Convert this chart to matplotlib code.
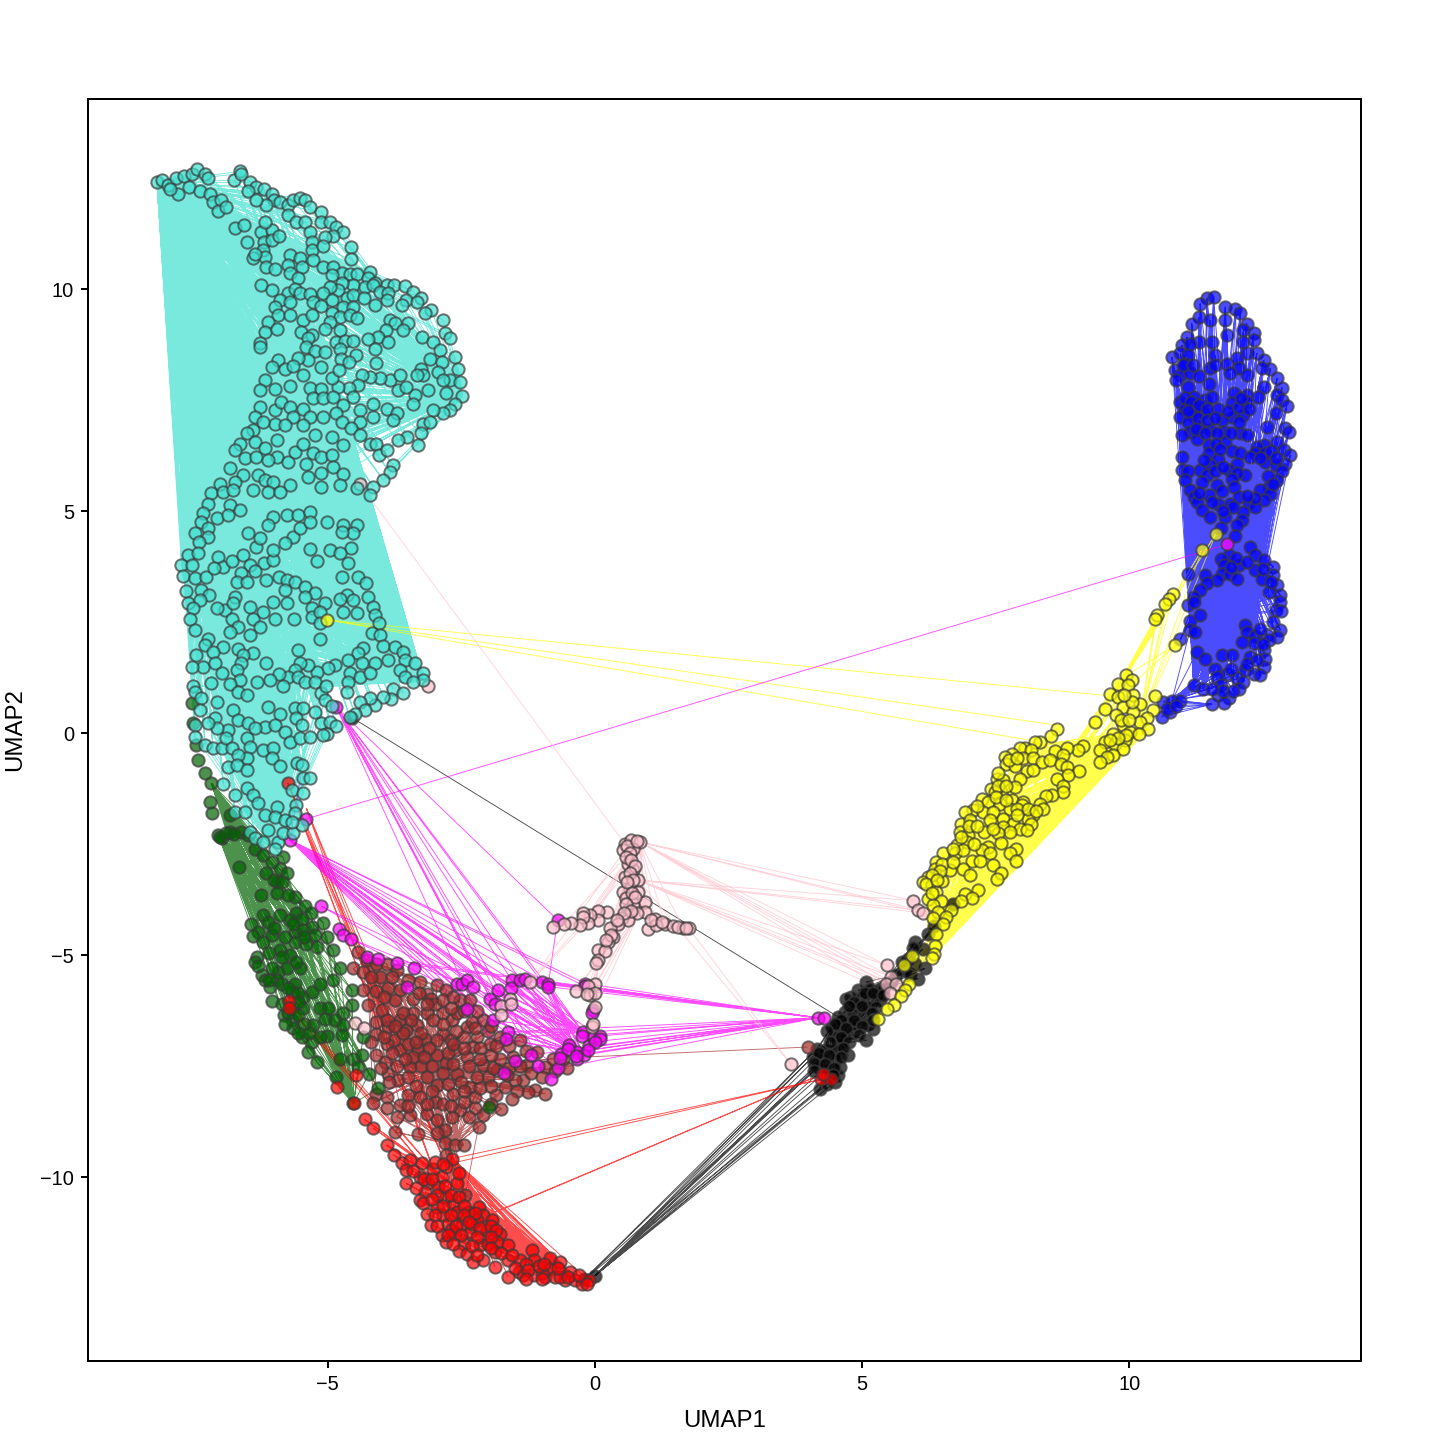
import matplotlib
matplotlib.use("Agg")
import matplotlib.pyplot as plt
import numpy as np

plt.rcParams['font.family'] = ['Liberation Sans', 'DejaVu Sans']

turquoise_pts = [(-8.2,12.4),(-8.1,12.45),(-8.0,12.35),(-7.85,12.5),(-7.7,12.55),(-7.55,12.6),(-7.45,12.7),(-7.3,12.6),(-7.25,12.5),(-7.6,12.3),(-7.4,12.2),(-7.8,12.15),(-7.95,12.25),(-7.2,12.15),(-7.15,11.95),(-7.0,12.0),(-7.05,11.75),(-6.9,11.85),(-6.75,12.45),(-6.65,12.65),(-6.62,12.6),(-6.45,12.4),(-6.35,12.3),(-6.5,12.2),(-6.2,12.25),(-6.05,12.15),(-6.0,12.0),(-6.15,11.9),(-6.35,12.0),(-5.9,11.95),(-5.75,11.9),
(-5.65,12.0),(-5.52,12.05),(-5.43,12.0),(-5.34,11.85),(-5.74,11.67),(-5.59,11.52),(-5.43,11.52),(-5.12,11.74),(-5.12,11.52),(-4.96,11.52),(-4.84,11.4),(-4.71,11.29),(-4.9,11.2),(-5.06,11.18),(-5.34,11.29),
(-6.73,11.37),(-6.57,11.44),(-6.51,11.07),(-6.26,11.29),(-6.04,11.33),(-6.18,11.52),(-6.2,11.07),(-6.05,11.1),(-5.91,11.19),(-6.21,10.88),(-6.41,10.69),(-6.18,10.73),(-6.37,10.8),(-6.15,10.5),(-5.99,10.46),(-5.71,10.76),(-5.52,10.71),(-5.74,10.54),(-5.49,10.5),(-5.71,10.37),(-5.55,10.24),(-6.26,10.1),(-6.05,9.98),(-5.74,9.9),(-5.62,10.01),(-5.9,9.75),(-5.99,9.6),(-5.71,9.71),(-5.52,9.9),(-5.34,9.89),(-5.93,9.41),(-5.71,9.41),(-6.12,9.26),(-6.18,9.04),(-5.96,9.11),(-6.27,8.78),(-6.27,8.7),
(-5.3,11.07),(-5.29,10.89),(-5.27,10.65),(-5.1,10.97),(-4.57,10.94),(-4.57,10.67),(-5.09,10.49),(-4.9,10.5),(-4.74,10.37),(-4.59,10.35),(-4.45,10.35),(-4.93,10.31),(-4.21,10.39),(-4.24,10.24),(-4.11,10.13),(-4.53,10.1),(-4.74,10.13),(-4.81,9.98),(-4.96,10.04),(-5.09,9.9),(-5.27,9.71),(-5.12,9.62),(-4.93,9.75),(-4.64,9.79),(-4.53,9.86),(-4.72,9.6),(-4.52,9.6),(-4.93,9.45),(-4.77,9.38),(-4.59,9.41),(-4.46,9.34),(-5.46,9.3),(-5.3,9.41),(-4.96,9.26),(-4.77,9.08),(-5.05,9.09),(-5.5,9.04),(-5.3,8.96),(-5.37,8.89),(-4.84,8.81),(-4.68,8.83),(-4.52,8.84),(-5.4,8.7),(-5.24,8.6),(-5.05,8.59),(-4.77,8.65),(-4.48,8.51),(-4.76,8.42),(-4.61,8.35),
(-4.31,10.05),(-4.32,9.79),(-4.15,10.1),(-3.9,10.09),(-3.76,10.09),(-3.56,10.07),(-3.4,9.94),(-3.25,9.79),(-3.53,9.75),(-3.34,9.71),(-4.03,9.94),(-3.87,9.9),(-3.9,9.75),(-3.62,9.64),(-4.12,9.64),(-3.06,9.53),(-3.18,9.45),(-2.84,9.3),(-3.84,9.3),(-3.5,9.23),(-3.74,9.23),(-3.91,9.08),(-3.59,9.08),(-4.06,8.93),(-4.24,8.87),(-3.87,8.8),(-4.12,8.66),(-3.23,8.93),(-3.03,8.81),(-2.81,9.0),(-2.71,8.89),(-2.9,8.63),(-2.62,8.48),(-3.09,8.42),(-2.87,8.36),(-2.56,8.21),(-3.25,8.21),(-3.21,8.06),(-3.34,8.06),(-2.93,8.14),(-2.72,7.95),(-2.84,7.95),(-2.53,7.91),(-2.48,7.59),(-2.62,7.42),(-2.72,7.27),(-2.84,7.2),(-3.03,7.27),(-2.78,7.65),(-3.12,7.72),(-3.37,7.61),(-3.68,7.72),(-3.53,7.8),(-3.84,7.95),(-3.65,8.06),(-4.09,8.33),(-4.03,7.99),(-4.21,8.02),(-4.37,8.06),(-4.43,7.84),(-4.6,7.78),(-4.81,7.8),(-4.93,7.99),(-4.79,8.17),(-5.12,8.25),(-5.37,8.4),(-5.55,8.44),(-5.93,8.4),(-6.05,8.24),(-5.8,8.19),(-5.66,8.27),(-5.46,8.06),(-6.18,7.95),(-6.27,7.72),(-5.99,7.76),(-5.71,7.81),(-5.34,7.78),(-5.12,7.76),(-6.27,7.35),(-6.37,7.12),(-5.99,7.27),(-5.87,7.46),(-5.71,7.35),(-5.46,7.31),(-5.27,7.54),(-5.09,7.54),(-4.9,7.57),(-4.71,7.39),(-4.52,7.57),(-4.4,7.27),(-4.15,7.42),(-3.9,7.31),(-3.71,7.2),(-3.4,7.42),(-5.34,7.12),(-5.65,7.12),(-5.99,6.97),(-5.8,6.94),(-5.46,6.94),(-5.09,7.12),(-4.84,7.2),(-4.74,7.01),(-4.4,7.01),(-4.15,7.12),(-3.78,7.05),(-3.21,6.97),(-3.09,7.01),(-3.25,6.75),(-3.51,6.67),(-3.68,6.6),(-3.31,6.49),(-5.24,6.71),(-4.93,6.67),(-4.56,6.86),(-4.4,6.71),(-4.21,6.52),(-4.09,6.52),(-4.05,6.26),(-3.9,6.37),(-3.78,6.04),(-3.84,5.89),(-3.96,5.7),(-4.15,5.55),(-4.21,5.36),(-6.4,6.82),(-6.21,7.01),(-6.52,6.75),(-6.65,6.52),(-6.74,6.37),(-6.37,6.56),(-6.18,6.41),(-5.96,6.6),(-6.55,6.19),(-6.34,6.22),(-5.96,6.22),(-5.74,6.11),(-6.12,6.15),(-5.62,6.33),(-5.46,6.52),(-5.27,6.3),(-5.4,6.07),(-5.12,6.22),(-4.93,6.26),(-4.71,6.49),(-4.9,6.0),(-5.12,5.85),(-4.72,5.83),(-5.37,5.77),(-6.83,5.96),(-6.58,5.81),(-6.3,5.81),(-6.74,5.66),(-7.02,5.62),(-6.18,5.7),(-6.02,5.65),(-5.71,5.58),(-5.12,5.55),(-4.77,5.58),(-4.46,5.51),(-7.18,5.4),(-6.96,5.44),(-6.77,5.47),(-6.4,5.47),(-6.12,5.44),(-5.9,5.44),
(-7.24,5.17),(-6.83,5.14),(-6.65,5.02),(-7.33,4.95),(-7.08,4.84),(-6.87,4.91),(-7.37,4.76),(-7.24,4.61),(-7.49,4.5),(-7.24,4.42),(-7.41,4.31),(-7.61,4.01),(-7.43,4.05),(-7.74,3.79),(-7.55,3.79),(-7.71,3.54),(-7.49,3.49),(-7.29,3.52),(-7.65,3.19),(-7.37,3.22),(-7.23,3.11),(-7.61,2.92),(-7.4,3.0),(-7.52,2.81),(-7.58,2.56),(-7.49,2.32),(-7.05,3.97),(-6.96,3.75),(-7.13,3.71),(-6.8,3.88),(-6.58,4.01),(-6.34,4.2),(-6.46,3.79),(-6.2,3.82),(-6.02,3.9),(-6.02,4.12),(-6.62,3.6),(-6.37,3.64),(-6.16,3.45),(-5.91,3.52),(-5.77,3.45),(-5.62,3.41),(-6.71,3.41),(-6.52,3.41),(-5.8,3.22),(-5.43,3.3),(-5.24,3.15),(-5.43,3.07),(-5.05,2.92),(-5.77,2.92),(-6.03,2.96),(-6.74,3.07),(-6.93,2.77),(-7.08,2.81),(-6.77,2.92),(-6.46,2.85),(-6.21,2.73),(-6.4,2.58),(-5.99,2.56),(-5.63,2.56),(-6.8,2.58),(-5.3,2.81),(-5.3,2.61),(-5.15,2.73),(-5.15,2.49),(-5.15,2.13),(-6.68,2.4),(-6.27,2.4),(-6.46,2.22),(-6.83,2.28),
(-5.34,4.14),(-4.96,4.12),(-5.2,3.88),(-5.65,4.42),(-5.8,4.27),(-5.52,4.61),(-5.77,4.91),(-5.55,4.91),(-5.34,4.99),(-5.34,4.76),(-6.02,4.87),(-6.12,4.69),(-6.27,4.39),(-6.49,4.5),(-5.02,4.76),(-4.71,4.69),(-4.46,4.69),(-4.53,4.5),(-4.74,4.54),(-4.56,4.16),(-4.77,4.05),(-4.62,3.82),(-4.74,3.52),(-4.43,3.52),(-4.28,3.37),(-4.65,3.11),(-4.77,3.02),(-4.52,3.0),(-4.24,3.07),(-4.71,2.73),(-4.46,2.71),(-4.15,2.85),(-4.12,2.66),(-4.05,2.49),(-4.18,2.25),(-4.03,2.21),(-3.96,1.97),(-4.34,1.91),(-4.43,1.8),(-4.62,1.65),(-4.37,1.57),(-4.12,1.57),(-3.74,1.95),(-3.59,1.83),(-3.87,1.65),(-3.56,1.65),(-3.37,1.57),(-3.65,1.42),(-3.56,1.27),(-3.21,1.35),(-3.21,1.2),(-3.4,1.16),(-3.78,0.99),(-3.59,0.91),(-3.81,0.76),(-3.96,0.82),(-4.12,0.63),(-4.21,0.78),(-4.4,0.71),(-4.31,0.52),(-4.49,0.42),(-4.59,0.37),
(-4.59,1.35),(-4.4,1.27),(-4.62,1.14),(-4.21,1.35),(-4.65,0.93),(-4.87,1.53),(-4.99,1.46),(-5.21,1.38),(-5.37,1.53),(-5.52,1.59),(-5.62,1.42),(-5.74,1.27),(-5.55,1.27),(-5.43,1.16),(-5.24,1.16),(-5.84,1.06),(-5.55,1.87),(-6.15,1.57),(-5.91,1.33),(-6.08,1.2),(-6.32,1.14),(-6.41,1.8),(-6.69,1.89),(-6.58,1.76),(-6.62,1.57),(-6.71,1.42),(-6.65,1.2),(-6.83,1.1),(-6.68,0.93),(-6.52,0.86),(-6.96,1.95),(-7.24,2.13),(-7.46,1.76),(-7.3,1.98),(-7.15,1.83),(-7.33,1.5),(-7.55,1.48),(-7.12,1.57),(-6.99,1.35),(-7.18,1.12),(-7.52,1.05),(-7.49,0.93),(-7.37,0.78),(-7.08,0.71),(-7.4,0.52),(-7.12,0.33),(-6.77,0.52),(-6.68,0.3),(-6.87,0.07),(-7.08,0.11),(-7.24,0.22),(-7.49,0.18),(-7.49,-0.08),(-7.3,-0.27),(-7.15,-0.34),(-6.99,-0.34),(-6.9,-0.1),(-6.49,0.22),(-6.18,0.14),(-6.52,-0.12),(-6.37,0.11),(-6.46,-0.31),(-6.8,-0.34),(-6.12,0.58),(-5.9,0.43),(-5.99,0.18),(-5.8,0.03),(-5.62,0.56),(-5.46,0.56),(-5.59,0.33),(-5.49,0.18),(-5.71,-0.19),(-5.52,-0.12),(-5.34,-0.08),(-6.21,-0.38),(-6.02,-0.34),(-6.05,-0.57),(-6.52,-0.57),(-6.68,-0.49),(-6.87,-0.76),(-6.71,-0.72),(-6.52,-0.83),(-5.9,-0.74),(-5.57,-0.68),(-5.48,-0.72),(-6.96,-1.15),(-6.52,-1.24),(-6.74,-1.39),(-6.4,-1.39),(-6.3,-1.57),(-6.74,-1.77),(-6.55,-1.77),(-6.46,-2.22),(-6.37,-2.37),(-6.21,-2.45),(-6.12,-2.18),(-6.18,-1.84),(-5.96,-1.66),(-5.99,-1.88),(-5.8,-1.96),(-5.59,-1.62),(-5.68,-1.27),(-5.46,-1.02),(-5.34,-1.02),(-5.46,-1.36),(-5.62,-1.81),(-5.93,-2.45),(-5.99,-2.6),(-5.84,-2.26),(-5.65,-2.24),(-5.48,-2.07),(-5.68,-2.0),(-5.12,0.22),(-4.96,0.26),(-4.84,0.16),(-5.02,-0.01),(-5.1,-0.04),(-5.24,0.48),(-5.12,0.9),(-5.05,0.75),(-4.93,0.6),(-5.03,1.05)]

blue_pts = [(11.46,9.79),(11.58,9.82),(11.33,9.67),(11.8,9.6),(11.99,9.56),(12.08,9.45),(11.3,9.37),(11.52,9.3),(11.8,9.3),(11.17,9.22),(12.2,9.22),(11.83,8.96),(12.14,9.07),(12.33,9.0),(12.33,8.85),(11.08,8.92),(11.3,8.81),(11.55,8.81),(10.99,8.74),(11.14,8.77),(12.14,8.81),
(10.8,8.47),(10.96,8.55),(11.11,8.51),(11.61,8.51),(11.83,8.32),(12.02,8.44),(12.2,8.55),(12.39,8.56),(12.52,8.4),(12.64,8.21),(12.49,8.23),(10.86,8.17),(11.05,8.32),(10.96,8.06),(11.14,8.1),(11.52,8.23),(11.61,8.29),(12.05,8.23),(12.2,8.06),(11.89,8.1),(12.77,7.99),(12.52,7.8),(11.49,7.86),(11.11,7.8),(12.86,7.78),(12.77,7.61),(11.96,7.65),(12.2,7.61),(12.42,7.57),(11.21,7.57),(11.42,7.5),(11.55,7.57),(12.86,7.5),(10.96,7.46),(11.05,7.31),(11.24,7.35),(11.67,7.31),(11.92,7.44),(12.2,7.46),(12.95,7.36),(12.74,7.2),(10.96,7.12),(11.17,7.16),(11.39,7.23),(11.92,7.12),(12.14,7.16),(11.74,7.05),(12.58,6.9),(11.11,7.01),(11.33,6.9),(11.52,6.82),(11.14,6.78),(11.77,6.78),(12.08,6.75),(12.2,6.71),(12.92,6.86),(12.99,6.78),(10.99,6.71),(11.27,6.63),(12.77,6.56),(11.8,6.56),(11.49,6.48),(12.52,6.48),(12.39,6.45),(12.89,6.37),(13.02,6.26),(10.99,6.22),(11.49,6.3),(11.92,6.36),(12.08,6.3),(12.36,6.3),(12.27,6.22),(11.67,6.18),(12.55,6.11),(12.92,6.07),(12.74,6.03),(12.02,6.07),(11.52,6.03),(10.99,5.92),(11.33,5.92),(11.86,5.92),(12.17,5.81),(12.02,5.85),(11.11,5.91),(11.46,5.81),(12.86,5.91),(11.05,5.7),(11.36,5.66),(11.92,5.73),(12.77,5.7),(11.96,5.55),(11.64,5.58),(12.61,5.55),(11.14,5.47),(11.74,5.46),(12.45,5.47),(12.64,5.39),(11.21,5.32),(11.49,5.36),(12.05,5.32),(12.52,5.24),(11.27,5.21),(11.67,5.17),(11.89,5.15),(12.24,5.18),(11.36,5.02),(12.14,4.98),(12.36,5.09),(11.52,4.87),(11.8,4.87),(12.11,4.79),(12.02,4.68),(11.71,4.63),(11.99,4.43),
(12.27,4.19),(12.36,4.0),(11.86,4.0),(11.71,3.91),(12.52,3.89),(11.77,3.78),(12.05,3.78),(12.7,3.74),(12.36,3.67),(11.11,3.58),(11.42,3.56),(11.74,3.59),(11.89,3.59),(12.7,3.56),(12.02,3.48),(12.49,3.48),(11.64,3.44),(12.77,3.33),(11.46,3.37),(11.33,3.22),(12.61,3.18),(12.83,3.1),(12.83,2.95),(11.21,3.07),(11.11,2.88),(12.74,2.77),(12.7,2.5),(11.14,2.53),(12.17,2.43),(12.2,2.28),(12.83,2.32),(11.14,2.32),(11.24,2.28),(12.36,2.18),(12.58,2.2),(12.77,2.17),(10.96,2.11),(12.11,2.05),(12.33,2.02),(12.61,2.09),(12.52,1.87),(12.27,1.72),(12.55,1.68),(11.27,1.83),(11.42,1.68),(11.74,1.75),(11.92,1.75),(11.61,1.45),(12.52,1.49),(12.17,1.42),(11.83,1.34),(12.33,1.34),(11.64,1.27),(12.02,1.23),(12.14,1.15),(11.21,1.08),(11.39,1.0),(11.71,1.08),(12.05,1.0),(11.67,0.85),(11.86,0.78),(11.55,0.65),(11.77,0.67),
(10.64,0.7),(10.8,0.73),(10.96,0.73),(10.77,0.48),(10.61,0.37)]
blue_extra = [(11.0,8.3),(11.2,8.3),(11.3,8.05),(10.88,7.95),(11.05,7.55),(11.15,7.45),(11.3,7.4),(11.45,7.3),(11.1,7.25),(11.28,7.1),(11.45,7.05),(11.6,7.1),(11.85,7.25),(12.05,7.35),(12.25,7.3),(12.05,7.0),(12.1,7.55),(11.25,6.85),(11.42,6.75),(11.65,6.75),(11.9,6.75),(11.62,6.5),(11.7,6.4),(12.55,6.3),(12.65,6.35),(12.75,6.2),(12.45,6.2),(11.4,6.15),(11.6,5.9),(11.75,6.0),(12.6,5.8),(12.7,5.6),(11.3,5.4),(11.55,5.2),(12.35,5.3),(12.2,5.35),(11.95,5.1),(11.75,5.0),(12.0,3.95),(11.9,3.75),(12.2,3.85),(12.5,3.7),(12.65,3.4),(12.85,2.75),(12.45,2.35),(12.5,2.0),(12.4,1.65),(12.2,1.55),(11.9,1.45),(12.45,1.3),(11.75,0.95),(11.55,1.0),(11.95,0.95),(10.7,0.55),(10.88,0.62),(11.22,2.95),(11.32,2.65)]

yellow_pts = [(9.95,1.3),(10.05,1.19),(9.8,1.11),(9.98,1.08),(9.64,0.89),(10.08,0.85),(9.8,0.81),(10.48,0.83),(9.55,0.55),(9.89,0.59),(10.2,0.65),(10.45,0.53),(10.08,0.48),(9.76,0.4),(10.33,0.33),(9.36,0.25),(9.89,0.18),(10.2,0.25),(10.36,0.1),(10.02,0.03),(9.7,-0.01),(10.19,-0.03),(9.92,-0.16),(9.55,-0.2),(9.73,-0.25),(9.45,-0.37),(9.88,-0.35),(9.7,-0.5),(9.58,-0.54),(9.45,-0.65),
(8.64,0.09),(8.53,-0.07),(9.13,-0.3),(9.05,-0.39),(8.33,-0.2),(8.24,-0.2),(8.05,-0.33),(7.95,-0.33),(8.17,-0.39),(7.8,-0.46),(7.67,-0.54),(8.02,-0.55),(8.2,-0.57),(8.61,-0.4),(8.83,-0.33),(8.77,-0.5),(8.36,-0.65),(8.52,-0.61),(8.73,-0.69),(7.7,-0.7),(7.86,-0.73),(8.83,-0.76),(8.08,-0.85),(8.2,-0.84),(9.07,-0.85),(8.86,-0.95),(8.64,-1.03),(7.52,-1.03),(7.64,-1.05),(7.95,-1.03),(8.77,-1.18),(7.86,-1.21),(7.42,-1.25),(7.61,-1.33),(7.49,-1.33),(8.77,-1.33),(8.55,-1.4),(8.45,-1.42),(7.24,-1.48),(7.36,-1.55),(7.58,-1.59),(7.8,-1.51),(8.02,-1.55),(8.33,-1.59),(7.77,-1.7),(7.99,-1.63),(8.39,-1.72),(7.08,-1.74),(7.27,-1.78),(7.46,-1.78),(6.92,-1.78),(8.2,-1.85),(7.64,-1.93),(8.11,-1.93),(6.86,-2.04),(7.02,-1.96),(7.39,-1.96),(7.83,-2.04),(8.17,-2.04),(7.64,-2.11),(7.95,-2.15),(6.83,-2.23),(7.28,-2.23),(7.77,-2.23),(8.08,-2.19),(6.99,-2.3),(7.55,-2.26),(6.77,-2.53),(6.96,-2.45),(7.61,-2.47),(7.36,-2.56),(7.24,-2.64),(7.89,-2.62),(6.52,-2.71),(6.74,-2.71),(6.89,-2.64),(7.39,-2.71),(7.77,-2.71),(6.39,-2.9),(7.05,-2.87),(7.21,-2.87),(7.89,-2.87),(7.46,-2.98),(6.64,-3.09),(6.89,-3.05),(6.36,-3.05),(7.61,-3.16),(7.02,-3.2),(6.24,-3.24),(7.52,-3.28),(6.49,-3.32),(6.14,-3.35),(6.3,-3.43),(7.17,-3.54),(6.39,-3.58),(6.92,-3.62),(7.05,-3.71),(6.24,-3.73),(6.47,-3.78),(6.86,-3.77),(6.33,-3.88),(6.67,-3.99),(6.43,-4.03),(6.33,-4.16),(6.58,-4.14),(6.51,-4.29),(6.39,-4.53),(6.36,-4.8),(6.34,-4.97),(6.3,-5.06),(5.94,-5.03),(5.79,-5.23),(5.88,-5.64),(5.8,-5.79),(5.73,-5.92),(5.59,-6.13),(5.46,-6.21),(5.29,-6.43)]
yellow_extra = [(7.55,-0.9),(7.75,-0.6),(7.9,-0.55),(7.55,-1.2),(7.7,-1.2),(7.5,-1.45),(7.7,-1.5),(7.9,-1.7),(8.1,-1.7),(8.25,-1.75),(7.15,-1.65),(7.0,-2.1),(7.15,-2.1),(7.45,-2.15),(7.9,-1.85),(6.7,-2.6),(6.85,-2.35),(7.1,-2.5),(6.5,-2.95),(6.7,-2.9),(6.45,-3.1),(6.3,-3.2),(6.2,-3.4),(6.4,-3.3),(6.3,-3.6),(9.85,0.3),(10.0,0.3),(9.95,-0.05),(9.8,-0.1),(10.05,0.7),(9.9,0.85),(9.65,-0.15)]
yellow_up = [(11.36,4.12),(11.62,4.48),(10.86,1.98),(10.83,3.14),(10.74,3.03),(10.68,2.9),(10.52,2.65),(10.49,2.56)]
yellow_far = [(-5.02,2.55)]
yellow_far_ends = [(9.55,0.85),(8.64,0.18),(8.14,-0.16)]

black_pts = [(5.08,-5.6),(4.93,-5.79),(5.15,-5.76),(5.33,-5.76),(4.8,-5.94),(4.99,-5.94),(5.21,-5.98),(5.33,-6.02),(4.93,-6.13),(5.11,-6.17),(5.27,-6.17),(4.68,-6.28),(4.83,-6.32),(5.02,-6.36),(4.55,-6.39),(4.74,-6.51),(4.9,-6.54),(5.11,-6.54),(4.43,-6.62),(4.61,-6.69),(4.83,-6.73),(5.21,-6.66),(5.08,-6.92),(4.49,-6.84),(4.68,-6.84),(4.58,-6.99),(4.15,-7.11),(4.3,-7.14),(4.49,-7.14),(4.08,-7.29),(4.27,-7.33),(4.49,-7.33),(4.74,-7.26),(4.18,-7.52),(4.37,-7.56),(4.58,-7.52),(4.55,-7.71),(4.21,-8.01),(4.49,-7.86),
(5.99,-4.7),(6.24,-4.52),(6.14,-4.86),(5.86,-5.08),(6.18,-5.3),(5.8,-5.34),(5.64,-5.45),(5.89,-5.42),(6.05,-5.53),(6.71,-3.84),(5.4,-5.76)]
black_extra = [(4.7,-5.98),(4.85,-6.05),(5.05,-5.85),(5.2,-5.85),(5.4,-5.9),(4.75,-6.15),(5.0,-6.15),(5.18,-6.3),(4.6,-6.45),(4.85,-6.45),(5.0,-6.6),(5.2,-6.45),(4.5,-6.55),(4.7,-6.65),(4.95,-6.8),(4.35,-6.7),(4.6,-6.85),(4.75,-6.95),(4.4,-6.95),(4.65,-7.1),(4.2,-7.2),(4.38,-7.25),(4.6,-7.3),(4.1,-7.42),(4.3,-7.45),(4.48,-7.55),(4.28,-7.7),(4.45,-7.7),(4.1,-7.6),(4.35,-7.9),(5.75,-5.15),(5.95,-4.85),(5.55,-5.6),(6.35,-4.35),(6.0,-5.2)]
black_hubs = [(0.0,-12.22),(-0.2,-12.3),(-4.55,0.35)]

green_pts = [(-7.18,-1.13),(-7.2,-1.55),(-7.16,-1.81),(-6.83,-1.85),(-7.05,-2.3),(-6.99,-2.37),(-6.83,-2.22),(-6.62,-2.22),(-6.37,-2.6),(-6.21,-2.75),(-5.84,-2.79),(-6.05,-2.9),(-6.66,-3.01),(-5.9,-3.05),(-6.16,-3.15),(-5.77,-3.16),(-5.96,-3.35),(-6.25,-3.65),(-5.95,-3.61),(-5.62,-3.69),(-5.74,-3.65),(-5.43,-3.9),(-5.59,-4.06),(-5.9,-4.1),(-6.21,-4.1),(-5.32,-4.06),(-5.49,-4.18),(-6.43,-4.29),(-6.12,-4.25),(-5.71,-4.21),(-5.09,-4.27),(-5.3,-4.36),(-6.3,-4.48),(-6.05,-4.55),(-5.62,-4.48),(-5.46,-4.44),(-6.4,-4.57),(-5.24,-4.55),(-5.02,-4.59),(-6.21,-4.7),(-5.62,-4.7),(-5.4,-4.74),(-5.9,-4.89),(-4.9,-4.89),(-5.21,-4.81),(-5.71,-5.0),(-6.33,-5.04),(-6.37,-5.15),(-5.52,-5.3),(-5.77,-5.3),(-6.24,-5.45),(-5.93,-5.38),(-4.77,-5.3),(-4.9,-5.56),(-6.18,-5.56),(-5.96,-5.56),(-5.62,-5.64),(-5.15,-5.64),(-6.08,-5.71),(-5.68,-5.83),(-5.3,-5.83),(-4.55,-5.79),(-6.05,-6.03),(-5.46,-5.94),(-5.65,-6.17),(-4.55,-6.13),(-5.46,-6.2),(-5.15,-6.2),(-4.99,-6.2),(-4.71,-6.31),(-5.83,-6.35),(-5.68,-6.47),(-5.05,-6.43),(-4.87,-6.47),(-5.65,-6.65),(-5.27,-6.58),(-4.71,-6.58),(-5.49,-6.84),(-5.02,-6.82),(-4.74,-6.8),(-5.3,-6.95),(-5.37,-7.18),(-5.21,-7.4),(-4.77,-7.33),(-4.52,-7.33),(-4.37,-7.25),(-4.43,-7.52),(-4.84,-7.74),(-4.23,-7.67),(-4.06,-8.0),(-4.52,-8.34),(-1.98,-8.42),(-4.34,-6.84)]
green_extra = [(-7.55,0.67),(-7.52,0.22),(-7.46,-0.27),(-7.43,-0.6),(-7.3,-0.9),(-7.02,-2.33),(-6.9,-2.25),(-6.75,-2.28),(-6.5,-2.3),(-6.0,-3.3),(-5.85,-3.35),(-5.65,-4.3),(-6.0,-4.4),(-5.8,-4.6),(-5.45,-4.6),(-6.1,-4.95),(-6.3,-5.25),(-6.05,-5.3),(-5.85,-5.05),(-5.6,-5.15),(-6.1,-5.55),(-5.85,-5.65),(-5.75,-5.75),(-5.55,-5.85),(-5.85,-6.1),(-5.55,-6.05),(-5.75,-6.3),(-5.55,-6.35),(-5.8,-6.55),(-5.45,-6.55),(-5.55,-6.75),(-5.35,-6.75),(-5.15,-6.85)]

brown_pts = [(-4.27,-5.11),(-4.09,-5.19),(-4.52,-5.3),(-4.34,-5.38),(-3.9,-5.19),(-3.71,-5.34),(-4.03,-5.49),(-4.43,-4.93),(-4.34,-5.79),(-3.87,-5.75),(-3.65,-5.79),(-3.28,-5.6),(-2.96,-5.68),(-2.78,-5.79),(-3.15,-5.87),(-4.24,-6.13),(-3.99,-6.24),(-3.74,-6.02),(-3.4,-5.98),(-3.06,-5.98),(-2.84,-6.31),(-2.53,-6.02),(-2.34,-6.02),(-3.87,-6.62),(-3.65,-6.47),(-3.15,-6.31),(-3.34,-6.58),(-3.03,-6.47),(-2.68,-6.47),(-2.4,-6.62),(-2.09,-6.47),(-4.09,-6.77),(-3.53,-6.69),(-3.18,-6.88),(-2.84,-6.77),(-2.46,-6.84),(-2.21,-6.84),(-1.96,-6.99),(-1.78,-6.84),(-1.4,-6.92),(-3.93,-7.4),(-3.65,-7.14),(-3.31,-7.14),(-2.96,-7.25),(-2.62,-7.14),(-2.28,-7.07),(-4.09,-7.25),(-3.46,-7.52),(-2.59,-7.67),(-2.4,-7.29),(-2.09,-7.48),(-1.78,-7.33),(-1.53,-7.29),(-1.09,-7.18),(-0.78,-7.33),(-0.53,-7.55),(-0.93,-7.52),(-1.28,-7.48),(-3.87,-7.67),(-3.15,-7.74),(-2.96,-7.93),(-2.65,-8.12),(-2.34,-7.97),(-2.0,-7.74),(-1.68,-7.97),(-1.34,-7.82),(-1.12,-8.04),(-0.93,-8.12),(-1.25,-8.08),(-4.09,-8.12),(-3.9,-8.19),(-3.65,-8.38),(-3.28,-8.19),(-2.53,-8.49),(-2.09,-8.6),(-1.75,-8.46),(-4.15,-8.34),(-3.71,-8.64),(-3.46,-8.6),(-3.15,-8.57),(-2.68,-8.64),(-2.18,-8.87),(-3.74,-8.98),(-3.31,-9.02),(-2.96,-8.72),(-2.81,-8.94),(-2.81,-9.24),(-2.62,-9.28),(-2.46,-9.28),(-2.78,-9.5),(-2.43,-10.41),(-3.4,-6.31),(-2.59,-6.31),(-2.3,-6.5),(-3.77,-6.92),(-2.96,-6.92),(-3.4,-7.29),(-2.78,-7.44),(-1.84,-7.59),(-1.5,-7.82),(-3.68,-7.82),(-3.0,-6.1),(-3.6,-6.3),(-2.2,-6.25),(-2.0,-6.7),(-3.5,-7.0),(-3.1,-7.1),(-2.7,-6.9),(-2.35,-7.5),(-2.75,-7.2),(-1.95,-7.25),(-2.2,-7.75),(-2.5,-7.85),(-3.25,-7.5),(-3.0,-8.3),(-2.25,-8.2),(-1.85,-8.15),(-1.6,-7.55),(-1.2,-7.65),(-3.6,-6.75),(-3.9,-7.0),(-3.7,-7.5)]
brown_extra = [(-4.2,-5.5),(-4.1,-5.8),(-3.95,-5.95),(-3.8,-5.5),(-3.5,-5.55),(-3.3,-5.85),(-3.15,-6.1),(-2.85,-6.0),(-2.65,-5.95),(-2.45,-6.25),(-2.7,-6.2),(-3.9,-6.45),(-4.1,-6.5),(-4.2,-6.95),(-3.95,-6.85),(-3.75,-6.6),(-3.45,-6.45),(-3.25,-6.75),(-3.35,-6.95),(-2.85,-6.55),(-2.6,-6.7),(-2.25,-6.65),(-1.95,-6.6),(-2.65,-7.0),(-2.45,-7.1),(-2.15,-7.1),(-1.85,-7.05),(-1.6,-7.05),(-1.3,-7.15),(-3.8,-7.2),(-3.55,-7.35),(-3.2,-7.3),(-3.05,-7.5),(-2.85,-7.65),(-2.65,-7.45),(-2.15,-7.35),(-1.9,-7.55),(-1.65,-7.7),(-1.4,-7.5),(-1.0,-7.75),(-0.75,-7.6),(-0.6,-7.35),(-4.0,-7.55),(-3.85,-7.85),(-3.5,-7.75),(-3.35,-7.95),(-3.05,-8.05),(-2.75,-7.9),(-2.45,-8.05),(-2.15,-8.0),(-1.95,-7.95),(-1.45,-8.05),(-1.55,-8.25),(-3.5,-8.15),(-3.15,-8.35),(-2.85,-8.35),(-2.45,-8.3),(-2.25,-8.45),(-1.95,-8.35),(-2.7,-8.4),(-3.9,-8.45),(-3.5,-8.4),(-2.35,-8.65),(-2.95,-9.0)]
brown_stray = [(3.98,-7.07)]

red_pts = [(-5.73,-6.04),(-5.73,-6.18),(-5.75,-1.12),(-4.47,-7.7),(-4.82,-7.98),(-4.51,-8.32),(-4.31,-8.7),(-4.15,-8.9),(-3.9,-9.28),(-3.77,-9.5),(-3.62,-9.69),(-3.46,-9.62),(-3.24,-9.69),(-2.67,-9.58),(-3.53,-9.84),(-3.28,-9.99),(-3.03,-9.81),(-2.78,-9.77),(-2.87,-9.99),(-3.53,-10.14),(-3.12,-10.14),(-2.59,-10.14),(-2.93,-10.22),(-3.18,-10.33),(-2.78,-10.44),(-2.96,-10.41),(-3.28,-10.52),(-3.21,-10.59),(-2.96,-10.67),(-2.65,-10.63),(-2.18,-10.67),(-3.15,-10.82),(-2.84,-10.86),(-2.59,-10.78),(-2.37,-10.78),(-2.09,-10.86),(-1.93,-10.97),(-3.06,-11.08),(-2.75,-11.05),(-2.49,-11.05),(-2.21,-10.97),(-2.03,-11.2),(-2.34,-11.23),(-2.62,-11.27),(-2.87,-11.31),(-1.78,-11.27),(-2.78,-11.46),(-2.46,-11.5),(-2.15,-11.53),(-1.84,-11.46),(-1.62,-11.53),(-2.54,-11.67),(-2.4,-11.72),(-1.87,-11.68),(-2.28,-11.92),(-2.09,-11.87),(-1.62,-11.87),(-1.18,-11.65),(-1.4,-11.87),(-1.87,-12.02),(-1.15,-11.87),(-0.84,-11.83),(-0.65,-11.91),(-1.43,-12.13),(-1.62,-12.25),(-1.15,-12.21),(-0.84,-12.06),(-0.47,-12.13),(-0.93,-12.25),(-0.75,-12.25),(-0.56,-12.32),(-0.37,-12.32),(-0.25,-12.4),(-0.12,-12.32),(-2.7,-11.2),(-2.3,-11.05),(-2.0,-11.5),(-1.35,-12.2),(-1.0,-12.15),(-0.65,-12.25)]
red_extra = [(-3.35,-10.25),(-3.2,-10.05),(-3.05,-10.05),(-2.8,-10.2),(-2.7,-10.4),(-2.55,-10.45),(-3.05,-10.5),(-2.85,-10.65),(-2.45,-10.65),(-3.0,-10.85),(-2.7,-10.85),(-2.45,-10.85),(-2.25,-10.8),(-2.95,-11.1),(-2.6,-11.1),(-2.35,-11.0),(-2.15,-11.15),(-1.95,-11.1),(-1.85,-11.2),(-2.75,-11.3),(-2.5,-11.3),(-2.2,-11.35),(-1.95,-11.35),(-2.65,-11.5),(-2.3,-11.55),(-1.95,-11.6),(-2.2,-11.75),(-1.75,-11.7),(-1.55,-11.75),(-1.3,-11.95),(-1.25,-12.1),(-1.05,-12.0),(-1.5,-12.05),(-0.95,-11.95),(-0.7,-12.05),(-0.5,-12.25),(-1.0,-12.3),(-1.3,-12.3),(-0.3,-12.2),(-0.15,-12.4),(-3.4,-9.85),(-3.0,-9.65),(-2.85,-9.7),(-2.55,-9.9)]
red_far = [(4.23,-7.8),(4.42,-7.8),(4.27,-7.67)]
red_far_starts = [(-2.67,-9.58),(-2.55,-9.65),(-2.21,-10.97),(-2.1,-10.9)]
red_hidden = [(-5.5,-1.95),(-5.4,-1.7)]

magenta_pts = [(-5.12,-3.9),(-4.8,-4.42),(-4.71,-4.55),(-4.57,-4.63),(-4.26,-5.04),(-4.07,-5.08),(-3.71,-5.17),(-3.39,-5.3),(-3.51,-5.71),(-2.59,-5.65),(-2.48,-5.65),(-2.39,-5.56),(-2.28,-5.71),(-2.39,-6.22),(-1.96,-5.98),(-1.81,-5.79),(-1.87,-6.09),(-1.9,-6.47),(-1.62,-6.73),(-1.67,-6.88),(-1.56,-5.56),(-1.58,-5.73),(-1.4,-5.56),(-1.31,-5.54),(-1.0,-5.6),(-0.87,-5.64),(-0.88,-5.71),(-1.5,-7.39),(-1.7,-7.65),(-1.2,-7.25),(-1.07,-7.5),(-0.7,-7.55),(-0.82,-7.79),(-0.64,-7.23),(-0.49,-7.03),(-0.34,-7.18),(-0.34,-7.33),(-0.2,-7.25),(-0.12,-7.03),(-0.22,-6.74),(-0.03,-6.84),(0.1,-6.82),(-0.03,-6.24),(-0.18,-5.64),(-0.7,-4.21),(-0.19,-5.7),(-0.05,-6.31),(-0.24,-6.82),(0.09,-6.89),(0.0,-6.95),(-0.13,-7.13),(-0.5,-7.12),(-0.36,-7.27),(-0.65,-7.31)]
magenta_hubs = [(-5.71,-2.41),(-4.84,0.58)]
magenta_right = [(4.17,-6.41),(4.28,-6.42)]
magenta_neck = [(11.83,4.25)]
magenta_hidden = [(-5.4,-1.93)]

pink_pts = [(0.56,-2.49),(0.68,-2.41),(0.84,-2.45),(0.53,-2.64),(0.72,-2.6),(0.62,-2.94),(0.72,-3.09),(0.56,-3.24),(0.81,-3.31),(0.65,-3.5),(0.53,-3.57),(0.81,-3.57),(0.59,-3.72),(0.71,-3.84),(0.93,-3.8),(0.62,-3.99),(0.93,-4.02),(0.78,-4.06),(1.12,-4.19),(0.5,-4.17),(0.62,-4.21),(0.43,-4.29),(1.31,-4.29),(1.46,-4.35),(1.65,-4.38),(1.76,-4.4),(1.0,-4.42),(1.15,-4.32),(0.28,-4.4),(0.34,-4.59),(0.25,-4.7),(0.06,-4.89),(0.18,-4.9),(0.06,-5.11),(0.02,-5.17),(0.22,-4.02),(0.06,-4.0),(0.06,-4.21),(-0.1,-4.1),(-0.23,-4.05),(-0.13,-4.27),(-0.22,-4.15),(-0.28,-4.32),(-0.44,-4.27),(-0.58,-4.29),(-0.78,-4.36)]
pink_extra = [(0.6,-2.55),(0.78,-2.42),(0.65,-2.7),(0.58,-2.8),(0.68,-2.85),(0.75,-3.0),(0.65,-3.15),(0.72,-3.3),(0.6,-3.35),(0.7,-3.6),(0.75,-3.7),(0.58,-3.85),(0.68,-4.0),(0.55,-4.05),(0.42,-4.2),(0.3,-4.55),(0.2,-4.65),(1.05,-4.2),(1.25,-4.25),(1.55,-4.37),(1.7,-4.4)]
pink_low = [(0.0,-5.65),(-0.13,-5.69),(-0.36,-5.8),(-0.1,-5.9),(0.0,-5.86),(0.0,-6.16),(-0.05,-6.62),(-0.03,-6.54),(-1.59,-5.98),(-1.76,-6.14),(-1.58,-6.1),(-1.75,-6.34),(-1.21,-5.6),(-0.15,-5.87)]
pink_far = [(5.96,-3.77),(6.05,-3.98),(6.14,-4.05),(5.46,-5.23),(5.55,-5.49),(5.45,-5.64),(5.63,-5.66),(5.53,-5.85),(3.67,-7.46)]
pink_stray = [(-3.12,1.05),(-4.49,-6.52),(-4.32,-6.63),(-4.4,5.6)]
pink_core = [(0.84,-2.45),(0.81,-3.31)]

def fan(sink, hubs, pts):
    for hx, hy in hubs:
        for px, py in pts:
            sink.extend([(hx, hy), (px, py), (np.nan, np.nan)])

t = turquoise_pts
e_turq = []
fan(e_turq, [(-8.2,12.4)], t)
fan(e_turq, [(-8.0,12.35),(-7.8,12.15)], [p for p in t if p[1] < 6.5])
fan(e_turq, [(-2.48,7.59)], [p for p in t if p[1] > 5.6])
fan(e_turq, [(-3.21,1.2),(-3.4,1.16)], [p for p in t if p[1] > 1.0 and p[0] < -3.21 - 0.24*(p[1]-1.2)])
fan(e_turq, [(-5.99,-2.6)], [p for p in t if p[0] < -4.9 and p[1] < 6])

blue_all = blue_pts + blue_extra
e_blue = []
upper = [p for p in blue_all if p[1] > 4.4]
lower = [p for p in blue_all if 0.9 < p[1] <= 4.4]
tail = [p for p in blue_all if p[0] < 11.0 and p[1] < 1]
fan(e_blue, [(11.21,1.08),(11.39,1.0),(11.71,1.08),(12.14,1.15)], upper)
fan(e_blue, [(11.71,4.63),(12.02,4.68),(11.99,4.43),(11.14,2.53)], lower)
fan(e_blue, [(11.21,1.08),(11.55,0.65)], tail)
fan(e_blue, [(10.8,0.73)], [p for p in lower if p[1] < 2.4][::2])

yellow_all = yellow_pts + yellow_extra
e_yellow = []
y_main = [p for p in yellow_all if p[1] < -0.3 and p[1] > -5.1]
fan(e_yellow, [(10.36,0.1),(10.19,-0.03)], y_main)
fan(e_yellow, [(6.36,-4.8),(6.3,-5.06)], [p for p in yellow_all if p[1] > -3.5])
fan(e_yellow, [(9.95,1.3),(10.2,0.25),(9.55,0.55)], yellow_up)
fan(e_yellow, [(6.39,-4.53),(6.36,-4.8)], [p for p in yellow_all if p[1] < -5.0])
fan(e_yellow, yellow_far, yellow_far_ends)

black_all = black_pts + black_extra
e_black = []
fan(e_black, black_hubs[:1], [p for p in black_pts if p[1] < -6.9 and p[0] < 4.6])
fan(e_black, black_hubs[1:2], [p for p in black_pts if p[1] < -6.9 and p[0] < 4.4][::2])
fan(e_black, [(4.58,-6.99),(4.43,-6.62)], [p for p in black_pts if p[1] < -6.0])
fan(e_black, [(5.64,-5.45),(5.33,-5.76)], [p for p in black_pts if p[1] > -6.4])
fan(e_black, black_hubs[2:], [(4.55,-6.39)])

green_all = green_pts + green_extra
e_green = []
g_band = [p for p in green_pts if -5.85 < p[0] < -4]
fan(e_green, [(-7.18,-1.13),(-7.05,-2.3)], g_band)
fan(e_green, [(-4.52,-8.34)], g_band)
fan(e_green, [(-3.7,-6.75)], [(-1.98,-8.42)])

brown_all = brown_pts + brown_extra
e_brown = []
fan(e_brown, [(-3.15,-7.74),(-3.0,-7.6)], brown_pts)
fan(e_brown, [(-2.81,-9.24),(-2.62,-9.28)], [p for p in brown_pts if p[1] < -7.6 and -4 < p[0] < -1.6])
fan(e_brown, [(-4.27,-5.11)], [p for p in brown_pts if p[1] > -8.5 and p[0] < -2.5])
fan(e_brown, brown_stray, [(-0.3,-7.3)])
fan(e_brown, [(-2.43,-10.41)], [(-2.18,-8.87)])

red_all = red_pts + red_extra
e_red = []
fan(e_red, [(-2.67,-9.58)], [p for p in red_pts if p[1] < -10.8])
fan(e_red, [(-0.25,-12.4),(-0.47,-12.13)], [p for p in red_pts if -11.4 < p[1] < -9])
fan(e_red, [(-2.87,-9.99),(-3.03,-9.81)], [(-3.9,-9.28),(-4.15,-8.9),(-4.31,-8.7)])
fan(e_red, red_hidden + [(-5.75,-1.12)], [(-2.78,-9.77),(-3.03,-9.81),(-2.67,-9.58)])
fan(e_red, [(-5.73,-6.04),(-5.73,-6.18)], [(-3.03,-9.81),(-3.24,-9.69)])
fan(e_red, red_far_starts[:2], red_far[:1])
fan(e_red, red_far_starts[2:], red_far[2:])

e_mag = []
m = magenta_pts
fan(e_mag, magenta_hubs[:1], [p for p in m if -3 < p[0] < 0.2][::2])
fan(e_mag, magenta_hubs[1:], [p for p in m if -2 < p[0] < -0.5][::2])
fan(e_mag, magenta_right[:1], [p for p in m if p[0] > -1.7 and p[0] < 0.2][::2] + [(-3.71,-5.17),(-4.26,-5.04)])
fan(e_mag, [(-0.2,-7.25),(-0.34,-7.18),(-0.22,-6.74)], [p for p in m if -2 < p[0] < -0.8 and p[1] > -6.9])
fan(e_mag, [(-5.12,-3.9),(-4.57,-4.63)], [(-0.2,-7.25),(-0.03,-6.84)])
fan(e_mag, [(-0.88,-5.71)], [(-0.7,-4.21)])
fan(e_mag, [(-2.39,-6.22)], [(-1.5,-7.39)])
fan(e_mag, magenta_neck, magenta_hidden)
fan(e_mag, [(-5.71,-2.41)], [(-5.5,-0.9)])

e_pink = []
fan(e_pink, pink_far[:8], pink_core)
fan(e_pink, [(0.84,-2.45)], pink_pts[::2])
fan(e_pink, [(0.06,-5.11),(0.93,-3.8)], pink_low[:6] + pink_pts[28:35])
fan(e_pink, [(-1.21,-5.6)], [(0.06,-4.0),(0.53,-3.24),(0.56,-2.64)])
fan(e_pink, [(1.76,-4.4)], [(3.67,-7.46)])
fan(e_pink, [(-4.4,5.6)], [(0.56,-2.49)])
fan(e_pink, [(3.67,-7.46)], [(0.81,-3.31)])

fig = plt.figure(figsize=(10, 10), dpi=144)
ax = fig.add_axes([88/1440, 1 - 1361/1440, (1361-88)/1440, (1361-99)/1440])

for edges, col in [(e_turq,'turquoise'),(e_blue,'blue'),(e_yellow,'yellow'),(e_black,'black'),
                   (e_green,'darkgreen'),(e_brown,'brown'),(e_red,'red'),(e_mag,'magenta'),(e_pink,'pink')]:
    arr = np.array(edges)
    ax.plot(arr[:,0], arr[:,1], color=col, alpha=0.7, lw=0.45, solid_capstyle='butt', zorder=1)

groups = [(black_all + black_hubs,'black'),(brown_all + brown_stray,'brown'),(green_all,'darkgreen'),
          (red_all + red_far,'red'),(magenta_pts + magenta_hubs + magenta_right + magenta_hidden,'magenta'),
          (pink_pts + pink_extra + pink_low + pink_far + pink_stray,'pink'),
          (turquoise_pts,'turquoise'),(blue_all,'blue'),(yellow_all + yellow_up + yellow_far,'yellow'),(magenta_neck,'magenta')]
for i, (pts, col) in enumerate(groups):
    arr = np.array(pts)
    ax.scatter(arr[:,0], arr[:,1], s=38, c=col, edgecolors='#3a3a3a', linewidths=1.0, alpha=0.7, zorder=2+i)

ax.set_xlim(-9.49, 14.34)
ax.set_ylim(-14.14, 14.28)
ax.set_xticks([-5, 0, 5, 10])
ax.set_yticks([-10, -5, 0, 5, 10])
ax.tick_params(labelsize=10, width=1, length=3.5)
ax.set_xlabel('UMAP1', fontsize=12, labelpad=8)
ax.set_ylabel('UMAP2', fontsize=12, labelpad=7)
for s in ax.spines.values():
    s.set_linewidth(1)
fig.savefig('out.png', dpi=144)
